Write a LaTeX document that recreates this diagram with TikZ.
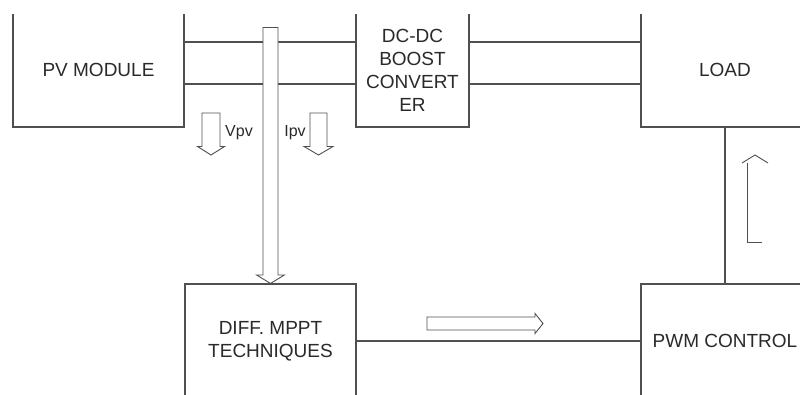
\documentclass[tikz,border=0pt]{standalone}
\usepackage{fontspec}
\setmainfont{Liberation Sans}
\usetikzlibrary{positioning,calc}
\definecolor{bline}{HTML}{505050}
\definecolor{btext}{HTML}{2A2A2A}
\tikzset{
  blk/.style={draw=bline, line width=1.1pt, align=center, inner sep=0pt,
              minimum height=114pt, font=\fontsize{19}{23}\selectfont, text=btext},
  wire/.style={draw=bline, line width=1.1pt},
  hollow/.style={draw=bline, line width=0.9pt, fill=white, line join=miter},
  sig/.style={font=\fontsize{16}{19}\selectfont, text=btext, inner sep=0pt},
  pics/hdown/.style args={#1/#2/#3}{code={
    \filldraw[hollow, fill=white] (0,0) -- (-#3,-8.5) -- (-#2,-8.5) -- (-#2,-#1) -- (#2,-#1)
      -- (#2,-8.5) -- (#3,-8.5) -- cycle;
  }},
}
\begin{document}
\begin{tikzpicture}[x=1pt, y=-1pt]
  \useasboundingbox (0,0) rectangle (800,394);
  \fill[white] (0,0) rectangle (800,394);
  \clip (0,14) rectangle (800,394);

  % blocks
  \node[blk, minimum width=171pt] (pv) at (98.5,70) {PV MODULE};
  \node[blk, minimum width=113pt] (dc) at (412.5,70) {DC-DC\\BOOST\\CONVERT\\ER};
  \node[blk, minimum width=168pt] (load) at (725,70) {LOAD};
  \node[blk, minimum width=171pt] (mppt) at (270.5,341) {DIFF. MPPT\\TECHNIQUES};
  \node[blk, minimum width=168pt] (pwm) at (725,341) {PWM CONTROL};

  % power path
  \draw[wire] ([yshift=28pt]pv.east) -- ([yshift=28pt]dc.west);
  \draw[wire] ([yshift=-14pt]pv.east) -- ([yshift=-14pt]dc.west);
  \draw[wire] ([yshift=28pt]dc.east) -- ([yshift=28pt]load.west);
  \draw[wire] ([yshift=-14pt]dc.east) -- ([yshift=-14pt]load.west);
  \draw[wire] (load) -- (pwm);
  \draw[wire] (mppt) -- (pwm);

  % sensed signals
  \pic at (mppt.north) {hdown=256/7.5/14};
  \coordinate (vtip) at (211,155);
  \coordinate (itip) at (318.5,155);
  \pic at (vtip) {hdown=42/9/13.5};
  \pic at (itip) {hdown=42/8.5/14.5};
  \node[sig] (vpv) at (239,133) {Vpv};
  \node[sig] (ipv) at (295,133) {Ipv};

  % duty signal
  \coordinate (ptip) at (543,323.5);
  \draw[hollow] (ptip) -- ++(-8,-10) -- ++(0,3.5) -- ++(-108,0) -- ++(0,13)
    -- ++(108,0) -- ++(0,3.5) -- cycle;
  \coordinate (gfoot) at (747,242);
  \draw[hollow, fill=none] ([xshift=15pt]gfoot) -- (gfoot) -- ++(0,-79);
  \draw[hollow, fill=none] ([xshift=-5pt,yshift=79pt]gfoot) -- ++(13,-8) -- ++(13,8);
\end{tikzpicture}
\end{document}
